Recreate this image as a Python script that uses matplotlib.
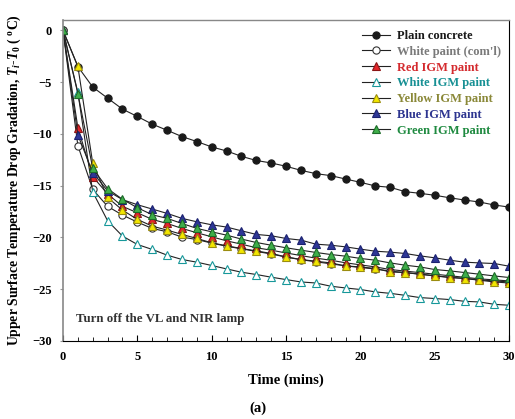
import matplotlib
matplotlib.use("Agg")
import matplotlib.pyplot as plt
from matplotlib.ticker import MultipleLocator

plt.rcParams["font.family"] = ["Liberation Serif", "DejaVu Serif"]
plt.rcParams["font.weight"] = "bold"
plt.rcParams["mathtext.fontset"] = "custom"
plt.rcParams["mathtext.rm"] = "Liberation Serif:bold"
plt.rcParams["mathtext.it"] = "Liberation Serif:bold:italic"

time_min = list(range(31))

plain_concrete = [0, -3.5, -5.48, -6.55, -7.61, -8.32, -9.06, -9.65, -10.26, -10.74,
                  -11.26, -11.65, -12.17, -12.57, -12.81, -13.13, -13.52, -13.84, -14.03, -14.36,
                  -14.68, -15.03, -15.16, -15.58, -15.74, -15.93, -16.17, -16.39, -16.58, -16.87,
                  -17.07]
white_paint_coml = [0, -11.13, -15.36, -17.0, -17.84, -18.52, -19.13, -19.45, -19.97, -20.2,
                    -20.55, -20.85, -21.1, -21.35, -21.6, -21.9, -22.15, -22.35, -22.55, -22.75,
                    -22.9, -23.05, -23.25, -23.4, -23.55, -23.7, -23.85, -23.95, -24.1, -24.2,
                    -24.3]
red_igm = [0, -9.4, -14.13, -15.8, -17.0, -17.62, -18.26, -18.65, -19.13, -19.55,
           -19.94, -20.33, -20.65, -21.0, -21.23, -21.5, -21.75, -22.0, -22.2, -22.45,
           -22.65, -22.85, -23.1, -23.25, -23.4, -23.55, -23.7, -23.85, -24.0, -24.1,
           -24.2]
white_igm = [0, -6.0, -15.61, -18.39, -19.87, -20.68, -21.16, -21.71, -22.13, -22.39,
             -22.71, -23.04, -23.36, -23.58, -23.84, -24.07, -24.3, -24.4, -24.71, -24.88,
             -25.03, -25.26, -25.4, -25.59, -25.81, -25.9, -26.0, -26.17, -26.23, -26.46,
             -26.55]
yellow_igm = [0, -3.48, -12.84, -16.14, -17.36, -18.26, -18.91, -19.29, -19.71, -20.1,
              -20.52, -20.81, -21.07, -21.3, -21.55, -21.88, -22.13, -22.3, -22.46, -22.75,
              -22.85, -23.0, -23.33, -23.39, -23.55, -23.72, -23.87, -23.97, -24.13, -24.3,
              -24.4]
blue_igm = [0, -10.1, -13.74, -15.5, -16.35, -16.84, -17.26, -17.68, -18.16, -18.49,
            -18.78, -19.0, -19.36, -19.71, -19.84, -20.1, -20.26, -20.65, -20.75, -20.91,
            -21.13, -21.33, -21.42, -21.55, -21.78, -21.97, -22.2, -22.39, -22.46, -22.52,
            -22.78]
green_igm = [0, -6.1, -13.32, -15.29, -16.32, -17.13, -17.81, -18.16, -18.65, -19.13,
             -19.46, -19.78, -20.16, -20.49, -20.75, -21.0, -21.23, -21.45, -21.65, -21.81,
             -22.03, -22.2, -22.46, -22.68, -22.85, -23.1, -23.23, -23.39, -23.55, -23.72,
             -23.87]

# label, data, marker, face, edge, text colour
series = [
    ("Plain concrete", plain_concrete, "o", "#1a1a1a", "#1a1a1a", "#1a1a1a"),
    ("White paint (com'l)", white_paint_coml, "o", "white", "#333333", "#7a7a7a"),
    ("Red IGM paint", red_igm, "^", "#e3262b", "#8a1515", "#d42a2e"),
    ("White IGM paint", white_igm, "^", "white", "#17989a", "#179094"),
    ("Yellow IGM paint", yellow_igm, "^", "#f2e600", "#9a8c10", "#8a8838"),
    ("Blue IGM paint", blue_igm, "^", "#2e3796", "#1c2270", "#2d3590"),
    ("Green IGM paint", green_igm, "^", "#3fae49", "#1d6b2a", "#1f8a40"),
]

fig = plt.figure(figsize=(5.15, 4.19), dpi=100)
ax = fig.add_axes([0.1223, 0.1862, 0.8665, 0.7661])

for label, values, marker, face, edge, _ in series:
    ms = 5.2 if marker == "o" else 6.3
    ax.plot(time_min, values, color="#222222", lw=0.8, marker=marker, ms=ms,
            mfc=face, mec=edge, mew=0.8, label=label)

ax.set_xlim(0, 30)
ax.set_ylim(-30, 1)
ax.xaxis.set_major_locator(MultipleLocator(5))
ax.xaxis.set_minor_locator(MultipleLocator(1))
ax.yaxis.set_major_locator(MultipleLocator(5))
ax.tick_params(axis="x", which="both", direction="in", labelsize=9, pad=7)
ax.tick_params(axis="x", which="major", length=4)
ax.tick_params(axis="x", which="minor", length=3)
ax.tick_params(axis="y", direction="out", length=2, color="#999999", labelsize=9, pad=6)

ax.spines["top"].set_color("#888888")
ax.spines["left"].set_color("#888888")
ax.spines["left"].set_linewidth(1.2)
ax.spines["top"].set_linewidth(1.0)

ax.set_xlabel("Time (mins)", fontsize=10.5, fontweight="bold", labelpad=8)
ax.set_ylabel(r"Upper Surface Temperature Drop Gradation, $T_i$-$T_0$ ( $^{\mathrm{o}}$C)",
              fontsize=9.8, fontweight="bold", labelpad=7)

ax.text(0.85, -27.9, "Turn off the VL and NIR lamp", fontsize=9.3, fontweight="bold",
        color="#333333", va="center", ha="left")

leg = ax.legend(loc="upper left", bbox_to_anchor=(0.655, 0.988), frameon=False,
                handlelength=2.3, handletextpad=0.5, labelspacing=0.3,
                borderpad=0, prop={"weight": "bold", "size": 9})
for text, s in zip(leg.get_texts(), series):
    text.set_color(s[5])

fig.text(0.5, 0.026, "(a)", ha="center", va="center", fontsize=10.5)

fig.savefig("out.png", dpi=100)
